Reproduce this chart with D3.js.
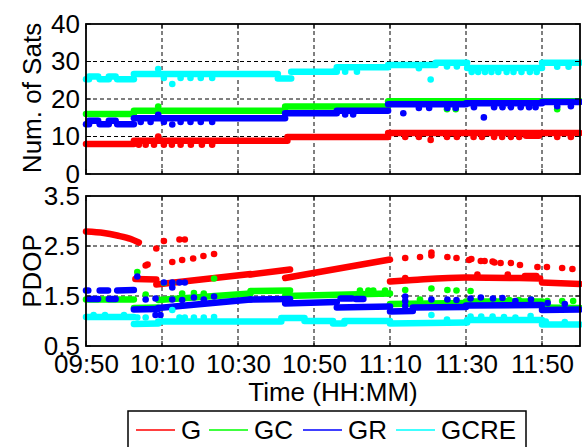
<!DOCTYPE html>
<html>
<head>
<meta charset="utf-8">
<script src="https://cdn.jsdelivr.net/npm/d3@7"></script>
<style>
  body { margin: 0; background: #fff; }
  svg { display: block; font-family: "Liberation Sans", Arial, sans-serif; }
</style>
</head>
<body>
<svg id="viz" width="582" height="447"></svg>
<script>
// ----------------------- DATA (time = minutes after 09:50)

const tickLabels = ["09:50", "10:10", "10:30", "10:50", "11:10", "11:30", "11:50"];
const satsTicks = [0, 10, 20, 30, 40];
const pdopTicks = [0.5, 1.5, 2.5, 3.5];
const seriesNames = ["G", "GC", "GR", "GCRE"];
const seriesColors = ["#ff0000", "#00ff00", "#0000ff", "#00ffff"];

// number of satellites: flat runs [start, end, value] and single epochs [time, value]
const satsG = [[0, 12.6, 8.0], [12.6, 53, 8.9], [53, 79.5, 9.85], [79.5, 130, 10.95], [115.8, 119.2, 10.2]];
const satsGDots = [[13.9, 7.8], [15.7, 7.8], [17.9, 7.8], [19, 10.0], [20.5, 7.8], [22.6, 7.8], [24.9, 7.8],
  [27.6, 7.8], [30.5, 7.8], [33.2, 7.8], [84, 9.9], [87.6, 9.9], [90.7, 9.1], [95, 9.9], [97.6, 9.9], [102, 9.9],
  [104.2, 9.9], [107.4, 9.9], [109.5, 9.9], [111.8, 9.9], [114, 9.9], [124, 9.9], [127.6, 9.9]];

const satsGC = [[0, 12.6, 16.0], [12.6, 52.4, 16.9], [52.4, 79.5, 18.0], [79.5, 130, 19.4]];
const satsGCDots = [[19, 18.0], [95, 17.3], [97.3, 17.3], [116.6, 18.3], [124, 17.3]];

const satsGR = [[0, 0.8, 13.3], [0.8, 3.2, 14.2], [3.6, 6, 13.3], [6, 7.8, 14.2], [8.2, 12.6, 13.3],
  [12.6, 52.4, 14.9], [52.4, 66, 16.2], [66, 79.5, 16.85], [79.5, 100, 18.6], [100, 120, 18.9], [120, 130, 19.2]];
const satsGRDots = [[14.4, 13.9], [17, 13.9], [19, 15.8], [20.5, 13.9], [22.7, 13.2], [24.9, 13.9], [27.5, 13.9],
  [30.2, 13.9], [33.2, 13.9], [68.2, 15.9], [70.3, 15.9], [83.5, 16.2], [87.6, 17.6], [90.3, 17.6], [95.1, 17.6],
  [97.3, 17.6], [102.1, 17.8], [104.7, 15.1], [107.4, 17.8], [109.6, 17.8], [111.8, 17.8], [114.4, 17.8],
  [116.6, 17.8], [118.3, 17.8], [124, 18.1], [127.6, 18.1]];

const satsGCRE = [[0, 0.8, 25.3], [0.8, 3.2, 26.0], [3.6, 6, 25.3], [6, 7.8, 26.0], [8.2, 12.6, 25.3],
  [12.6, 50.5, 26.7], [50.5, 54, 25.5], [54, 66, 27.3], [66, 79.5, 28.5], [79.5, 92, 29.1],
  [92, 100.3, 29.7], [100.3, 120, 28.3], [120, 130, 29.7]];
const satsGCREDots = [[19, 28.0], [20.5, 25.6], [22.7, 24.0], [24.9, 25.6], [27.5, 25.6], [30.2, 25.6],
  [33.2, 25.6], [65.3, 27.3], [68.2, 27.3], [71.3, 27.3], [87.6, 28.2], [90.7, 25.2], [95, 28.7], [97.6, 28.7],
  [101.5, 27.2], [103.2, 27.2], [105, 27.2], [106.7, 27.2], [108.5, 27.2], [110.7, 27.2], [112.5, 27.2],
  [114.6, 27.2], [116.8, 27.2], [118.6, 27.2], [124, 28.6], [127, 28.6]];

// PDOP: continuous arcs [[time, value], ...] and single epochs [time, value]
const pdopG = [
  [[0, 2.79], [4.7, 2.76], [8.2, 2.71], [11.8, 2.64], [13.9, 2.57]],
  [[13, 1.84], [18.5, 1.83]],
  [[18.5, 1.73], [43.3, 1.94]],
  [[43.3, 1.93], [53.7, 2.03]],
  [[52.4, 1.86], [80, 2.23]],
  [[80, 1.79], [86, 1.82], [100, 1.87], [114, 1.86], [119.5, 1.85]],
  [[115.5, 1.9], [118.5, 1.9]],
  [[120, 1.77], [130, 1.74]]
];
const pdopGDots = [[15.7, 2.11], [16.2, 2.13], [18.5, 2.45], [20.5, 2.6], [24.6, 2.63], [26, 2.63], [22.7, 2.18],
  [25.3, 2.22], [28.2, 2.25], [30.9, 2.3], [33.7, 2.34], [84, 2.26], [84, 1.86], [87.9, 2.28], [90.9, 2.37],
  [90.9, 2.31], [95.1, 2.28], [97.5, 2.26], [100.8, 2.22], [101.4, 2.24], [103, 1.93], [103.9, 2.2],
  [104.9, 2.2], [107, 2.19], [107.5, 2.17], [109.1, 2.16], [111, 1.93], [111.8, 2.16], [114.2, 2.12],
  [118.8, 2.08], [121.3, 2.08], [125.3, 2.06], [128, 2.04]];

const pdopGC = [
  [[0, 1.43], [12.6, 1.43]],
  [[12.6, 1.26], [19, 1.27]],
  [[19, 1.42], [43.3, 1.55]],
  [[43.3, 1.6], [53.7, 1.61]],
  [[52.4, 1.5], [80, 1.55]],
  [[80, 1.34], [100, 1.36]],
  [[100, 1.39], [120, 1.39]],
  [[120, 1.27], [130, 1.26]]
];
const pdopGCDots = [[13.5, 1.98], [15.7, 1.53], [20.5, 1.76], [22.7, 1.76], [25.3, 1.55], [28.4, 1.56],
  [31, 1.55], [33.7, 1.85], [72.1, 1.61], [74.3, 1.61], [75.6, 1.61], [78.7, 1.61], [84, 1.62], [87.9, 1.43],
  [90.9, 1.65], [95.1, 1.62], [97.5, 1.61], [101.2, 1.6], [107.1, 1.43], [111.4, 1.42], [113.9, 1.42],
  [117.1, 1.43], [121.4, 1.4], [125.3, 1.4], [128.2, 1.4]];

const pdopGR = [
  [[0, 1.61], [0.6, 1.61]],
  [[0.8, 1.44], [3.2, 1.44]],
  [[3.6, 1.61], [5.8, 1.61]],
  [[6, 1.44], [7.8, 1.44]],
  [[8.2, 1.61], [12.6, 1.62]],
  [[12.6, 1.23], [19, 1.24]],
  [[19, 1.26], [43.3, 1.43]],
  [[43.3, 1.43], [53.7, 1.44]],
  [[52.4, 1.35], [66, 1.38]],
  [[66, 1.27], [80, 1.29]],
  [[67, 1.45], [70, 1.45]],
  [[71, 1.44], [73, 1.44]],
  [[80, 1.19], [86, 1.2]],
  [[86, 1.27], [100, 1.28]],
  [[100, 1.31], [120, 1.32]],
  [[120, 1.22], [130, 1.23]]
];
const pdopGRDots = [[13.5, 1.89], [15.7, 1.43], [18.3, 1.45], [18.3, 1.12], [19.6, 1.12], [20.5, 1.77],
  [22.7, 1.77], [22.7, 1.67], [22.7, 1.43], [24.6, 1.77], [25.3, 1.42], [26, 1.77], [28.4, 1.47], [31, 1.43],
  [33.7, 1.49], [84, 1.49], [84, 1.4], [84, 1.3], [90.9, 1.43], [95.1, 1.43], [97.5, 1.42], [101.2, 1.45],
  [103.9, 1.47], [107.1, 1.45], [109.6, 1.46], [113, 1.4], [117.1, 1.43], [121.5, 1.36], [126, 1.34]];

const pdopGCRE = [
  [[0, 1.08], [12.6, 1.08]],
  [[12.6, 0.94], [19, 0.95]],
  [[19, 0.99], [51.4, 0.99]],
  [[51.4, 1.06], [57.5, 1.06]],
  [[57.5, 1.0], [65, 1.0]],
  [[65, 0.95], [68, 0.95]],
  [[68, 1.0], [80, 1.0]],
  [[80, 0.95], [100.3, 0.97]],
  [[100.3, 1.02], [120, 1.02]],
  [[120, 0.93], [130, 0.93]]
];
const pdopGCREDots = [[2, 1.12], [5, 1.12], [10, 1.12], [13.5, 1.07], [15.7, 1.07], [22.7, 1.22],
  [24.6, 1.07], [26, 1.07], [28.4, 1.07], [31, 1.07], [33.7, 1.08], [90.9, 1.12], [95, 1.03], [101.2, 1.09],
  [104, 1.09], [107, 1.09], [110, 1.08], [113, 1.07], [117, 1.1], [121, 0.99], [126, 0.98]];

// ----------------------- SETTINGS

const svg = d3.select('#viz');
const base = new Date(2000, 0, 1, 9, 50);
const t = m => new Date(+base + m * 60000);
const parseTick = d3.timeParse('%H:%M');
const tickDates = tickLabels.map(s => {
  const d = parseTick(s);
  return new Date(2000, 0, 1, d.getHours(), d.getMinutes());
});

const left = 86, right = 580;
const x = d3.scaleTime().domain([base, t(130)]).range([left, right]);
const ySats = d3.scaleLinear().domain([0, 40]).range([174, 24]);
const yPdop = d3.scaleLinear().domain([0.5, 3.5]).range([346, 196]);
const fontSize = 26;

// ----------------------- PANELS

function panel(y, ticks, fmt, label, labelY, showX) {
  const [y0, y1] = y.range();
  const g = svg.append('g');

  // dashed grid
  g.selectAll('.vgrid').data(tickDates.slice(1)).enter().append('line')
    .attr('x1', d => x(d)).attr('x2', d => x(d)).attr('y1', y1).attr('y2', y0)
    .attr('stroke', '#000').attr('stroke-width', 1).attr('stroke-dasharray', '4,3');
  g.selectAll('.hgrid').data(ticks.slice(1, -1)).enter().append('line')
    .attr('x1', left).attr('x2', right).attr('y1', d => y(d)).attr('y2', d => y(d))
    .attr('stroke', '#000').attr('stroke-width', 1).attr('stroke-dasharray', '4,3');

  // y axis labels
  const ax = d3.axisLeft(y).tickValues(ticks).tickFormat(fmt).tickSize(0).tickPadding(6);
  const axg = g.append('g').attr('transform', `translate(${left},0)`).call(ax);
  axg.select('.domain').remove();
  axg.selectAll('text').attr('font-size', fontSize).attr('fill', '#000')
    .attr('font-family', '"Liberation Sans", Arial, sans-serif');

  if (showX) {
    const xa = d3.axisBottom(x).tickValues(tickDates).tickFormat(d3.timeFormat('%H:%M'))
      .tickSize(0).tickPadding(9);
    const xg = g.append('g').attr('transform', `translate(0,${y0})`).call(xa);
    xg.select('.domain').remove();
    xg.selectAll('text').attr('font-size', fontSize).attr('fill', '#000')
      .attr('font-family', '"Liberation Sans", Arial, sans-serif');
  }

  svg.append('text')
    .attr('transform', `translate(41,${labelY}) rotate(-90)`)
    .attr('text-anchor', 'middle')
    .attr('font-size', fontSize)
    .text(label);

  return g;
}

function frame(y, ticks) {
  const [y0, y1] = y.range();
  const g = svg.append('g');
  // inner tick marks on every side
  tickDates.forEach(d => {
    g.append('line').attr('x1', x(d)).attr('x2', x(d)).attr('y1', y0).attr('y2', y0 - 5).attr('stroke', '#000');
    g.append('line').attr('x1', x(d)).attr('x2', x(d)).attr('y1', y1).attr('y2', y1 + 5).attr('stroke', '#000');
  });
  ticks.forEach(v => {
    g.append('line').attr('x1', left).attr('x2', left + 5).attr('y1', y(v)).attr('y2', y(v)).attr('stroke', '#000');
    g.append('line').attr('x1', right).attr('x2', right - 5).attr('y1', y(v)).attr('y2', y(v)).attr('stroke', '#000');
  });
  g.append('rect')
    .attr('x', left).attr('y', y1).attr('width', right - left).attr('height', y0 - y1)
    .attr('fill', 'none').attr('stroke', '#000').attr('stroke-width', 1.8);
}

panel(ySats, satsTicks, d3.format('d'), 'Num. of Sats', 98, false);
panel(yPdop, pdopTicks, d3.format('.1f'), 'PDOP', 271, true);

// ----------------------- MARKS

const marks = svg.append('g');
const lineW = 6.5, dotR = 3.3;

function drawSats(runs, dots, color) {
  marks.append('g').selectAll('line').data(runs).enter().append('line')
    .attr('x1', d => x(t(d[0]))).attr('x2', d => x(t(d[1])))
    .attr('y1', d => ySats(d[2])).attr('y2', d => ySats(d[2]))
    .attr('stroke', color).attr('stroke-width', lineW).attr('stroke-linecap', 'round');
  marks.append('g').selectAll('circle').data(dots).enter().append('circle')
    .attr('cx', d => x(t(d[0]))).attr('cy', d => ySats(d[1])).attr('r', dotR).attr('fill', color);
}

const pdopArc = d3.line().x(d => x(t(d[0]))).y(d => yPdop(d[1])).curve(d3.curveMonotoneX);

function drawPdop(arcs, dots, color) {
  marks.append('g').selectAll('path').data(arcs).enter().append('path')
    .attr('d', d => pdopArc(d))
    .attr('fill', 'none').attr('stroke', color).attr('stroke-width', lineW)
    .attr('stroke-linecap', 'round').attr('stroke-linejoin', 'round');
  marks.append('g').selectAll('circle').data(dots).enter().append('circle')
    .attr('cx', d => x(t(d[0]))).attr('cy', d => yPdop(d[1])).attr('r', dotR).attr('fill', color);
}

drawSats(satsG, satsGDots, seriesColors[0]);
drawSats(satsGC, satsGCDots, seriesColors[1]);
drawSats(satsGR, satsGRDots, seriesColors[2]);
drawSats(satsGCRE, satsGCREDots, seriesColors[3]);

drawPdop(pdopG, pdopGDots, seriesColors[0]);
drawPdop(pdopGC, pdopGCDots, seriesColors[1]);
drawPdop(pdopGR, pdopGRDots, seriesColors[2]);
drawPdop(pdopGCRE, pdopGCREDots, seriesColors[3]);

frame(ySats, satsTicks);
frame(yPdop, pdopTicks);

// x title
svg.append('text')
  .attr('x', (left + right) / 2).attr('y', 401)
  .attr('text-anchor', 'middle').attr('font-size', fontSize)
  .text('Time (HH:MM)');

// ----------------------- LEGEND

const legend = svg.append('g');
legend.append('rect')
  .attr('x', 128).attr('y', 411).attr('width', 398).attr('height', 50)
  .attr('fill', '#fff').attr('stroke', '#000').attr('stroke-width', 1.5);

const legendX = [136, 209, 303, 396];
seriesNames.forEach((name, i) => {
  legend.append('line')
    .attr('x1', legendX[i]).attr('x2', legendX[i] + 39).attr('y1', 430).attr('y2', 430)
    .attr('stroke', seriesColors[i]).attr('stroke-width', 1.5);
  legend.append('text')
    .attr('x', legendX[i] + 45).attr('y', 439)
    .attr('font-size', fontSize)
    .text(name);
});
</script>
</body>
</html>
